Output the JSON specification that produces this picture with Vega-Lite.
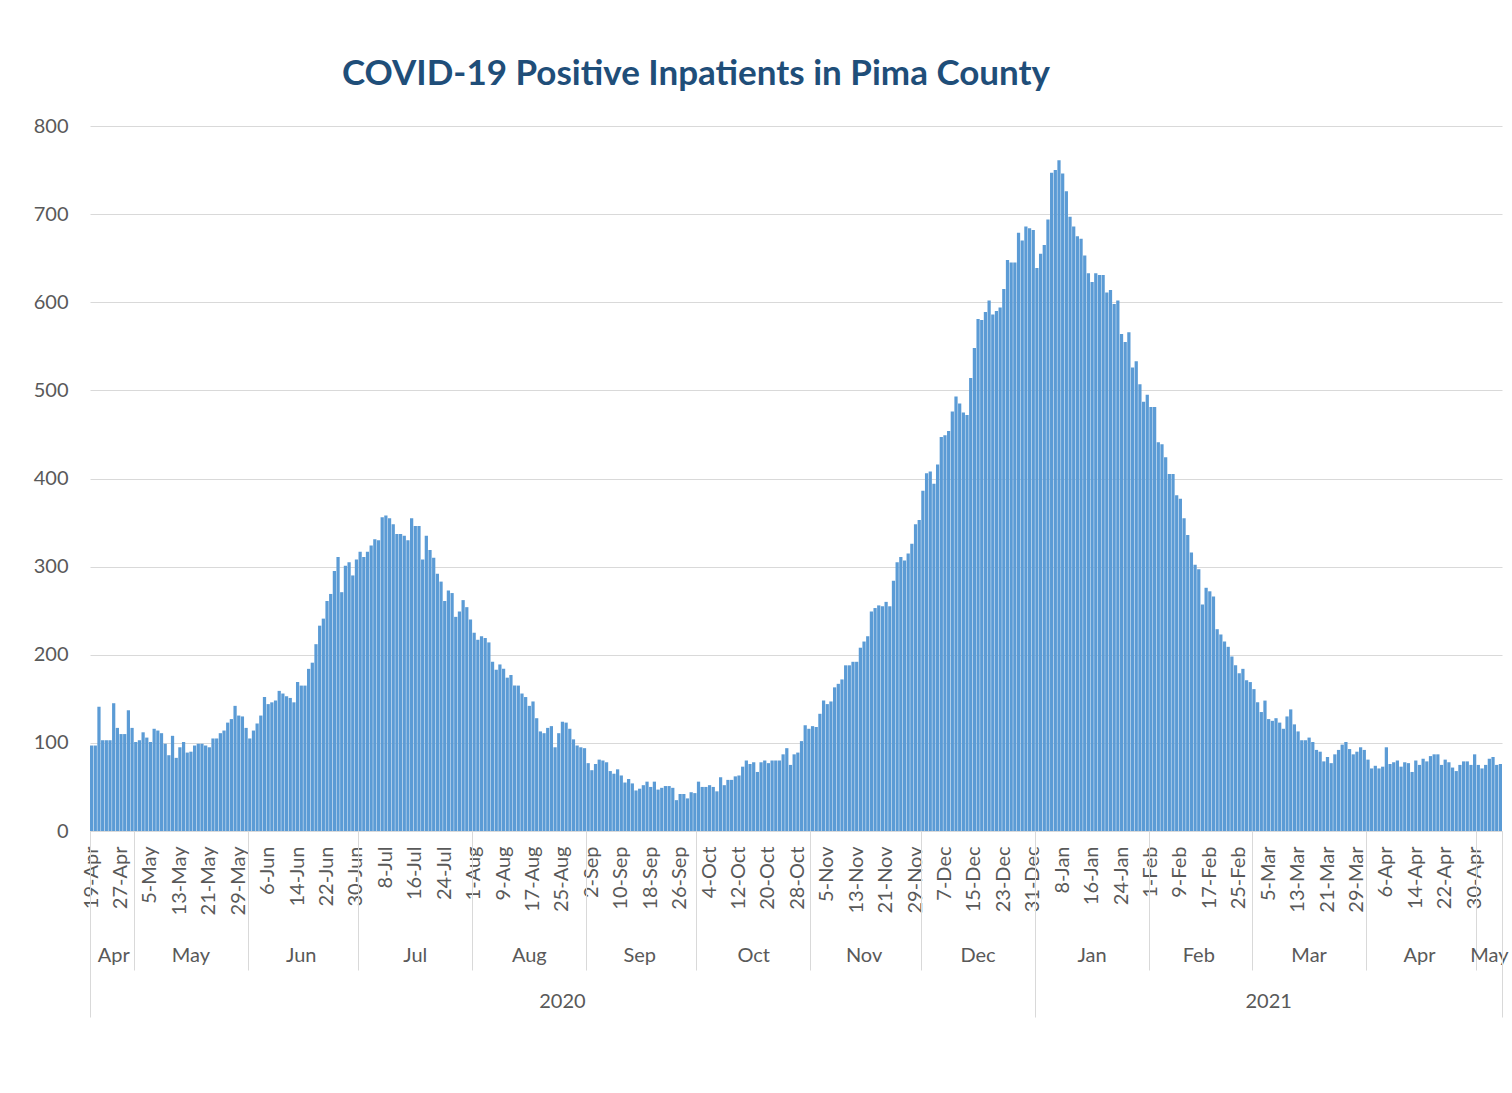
{
"$schema": "https://vega.github.io/schema/vega-lite/v6.json",
"width": 1412,
"height": 705,
"padding": {"left": 5, "top": 57, "right": 2, "bottom": 5},
"title": {"text": "COVID-19 Positive Inpatients in Pima County", "fontSize": 35, "font": "Lato", "fontWeight": "bold", "color": "#1F4E79", "anchor": "middle", "frame": "group", "dx": -100, "offset": 24},
"config": {"view": {"stroke": null}, "font": "Lato"},
"data": {"values": [
{"date":"2020-04-19","inpatients":97},{"date":"2020-04-20","inpatients":97},{"date":"2020-04-21","inpatients":141},{"date":"2020-04-22","inpatients":103},{"date":"2020-04-23","inpatients":103},{"date":"2020-04-24","inpatients":103},{"date":"2020-04-25","inpatients":145},{"date":"2020-04-26","inpatients":117},{"date":"2020-04-27","inpatients":110},{"date":"2020-04-28","inpatients":110},{"date":"2020-04-29","inpatients":137},{"date":"2020-04-30","inpatients":117},
{"date":"2020-05-01","inpatients":101},{"date":"2020-05-02","inpatients":103},{"date":"2020-05-03","inpatients":112},{"date":"2020-05-04","inpatients":106},{"date":"2020-05-05","inpatients":101},{"date":"2020-05-06","inpatients":116},{"date":"2020-05-07","inpatients":114},{"date":"2020-05-08","inpatients":111},{"date":"2020-05-09","inpatients":99},{"date":"2020-05-10","inpatients":86},{"date":"2020-05-11","inpatients":108},{"date":"2020-05-12","inpatients":83},{"date":"2020-05-13","inpatients":95},{"date":"2020-05-14","inpatients":101},{"date":"2020-05-15","inpatients":89},{"date":"2020-05-16","inpatients":90},{"date":"2020-05-17","inpatients":97},{"date":"2020-05-18","inpatients":99},{"date":"2020-05-19","inpatients":99},{"date":"2020-05-20","inpatients":97},{"date":"2020-05-21","inpatients":95},{"date":"2020-05-22","inpatients":105},{"date":"2020-05-23","inpatients":105},{"date":"2020-05-24","inpatients":111},{"date":"2020-05-25","inpatients":114},{"date":"2020-05-26","inpatients":123},{"date":"2020-05-27","inpatients":127},{"date":"2020-05-28","inpatients":142},{"date":"2020-05-29","inpatients":131},{"date":"2020-05-30","inpatients":130},{"date":"2020-05-31","inpatients":117},
{"date":"2020-06-01","inpatients":105},{"date":"2020-06-02","inpatients":114},{"date":"2020-06-03","inpatients":122},{"date":"2020-06-04","inpatients":131},{"date":"2020-06-05","inpatients":152},{"date":"2020-06-06","inpatients":144},{"date":"2020-06-07","inpatients":146},{"date":"2020-06-08","inpatients":148},{"date":"2020-06-09","inpatients":159},{"date":"2020-06-10","inpatients":156},{"date":"2020-06-11","inpatients":153},{"date":"2020-06-12","inpatients":151},{"date":"2020-06-13","inpatients":146},{"date":"2020-06-14","inpatients":169},{"date":"2020-06-15","inpatients":165},{"date":"2020-06-16","inpatients":165},{"date":"2020-06-17","inpatients":184},{"date":"2020-06-18","inpatients":191},{"date":"2020-06-19","inpatients":212},{"date":"2020-06-20","inpatients":233},{"date":"2020-06-21","inpatients":241},{"date":"2020-06-22","inpatients":261},{"date":"2020-06-23","inpatients":269},{"date":"2020-06-24","inpatients":295},{"date":"2020-06-25","inpatients":311},{"date":"2020-06-26","inpatients":271},{"date":"2020-06-27","inpatients":301},{"date":"2020-06-28","inpatients":305},{"date":"2020-06-29","inpatients":290},{"date":"2020-06-30","inpatients":308},
{"date":"2020-07-01","inpatients":317},{"date":"2020-07-02","inpatients":311},{"date":"2020-07-03","inpatients":317},{"date":"2020-07-04","inpatients":324},{"date":"2020-07-05","inpatients":331},{"date":"2020-07-06","inpatients":330},{"date":"2020-07-07","inpatients":356},{"date":"2020-07-08","inpatients":358},{"date":"2020-07-09","inpatients":355},{"date":"2020-07-10","inpatients":348},{"date":"2020-07-11","inpatients":337},{"date":"2020-07-12","inpatients":337},{"date":"2020-07-13","inpatients":335},{"date":"2020-07-14","inpatients":330},{"date":"2020-07-15","inpatients":355},{"date":"2020-07-16","inpatients":346},{"date":"2020-07-17","inpatients":346},{"date":"2020-07-18","inpatients":308},{"date":"2020-07-19","inpatients":335},{"date":"2020-07-20","inpatients":319},{"date":"2020-07-21","inpatients":310},{"date":"2020-07-22","inpatients":292},{"date":"2020-07-23","inpatients":283},{"date":"2020-07-24","inpatients":261},{"date":"2020-07-25","inpatients":273},{"date":"2020-07-26","inpatients":270},{"date":"2020-07-27","inpatients":243},{"date":"2020-07-28","inpatients":249},{"date":"2020-07-29","inpatients":262},{"date":"2020-07-30","inpatients":254},{"date":"2020-07-31","inpatients":240},
{"date":"2020-08-01","inpatients":225},{"date":"2020-08-02","inpatients":217},{"date":"2020-08-03","inpatients":221},{"date":"2020-08-04","inpatients":219},{"date":"2020-08-05","inpatients":214},{"date":"2020-08-06","inpatients":192},{"date":"2020-08-07","inpatients":183},{"date":"2020-08-08","inpatients":189},{"date":"2020-08-09","inpatients":184},{"date":"2020-08-10","inpatients":174},{"date":"2020-08-11","inpatients":177},{"date":"2020-08-12","inpatients":165},{"date":"2020-08-13","inpatients":165},{"date":"2020-08-14","inpatients":156},{"date":"2020-08-15","inpatients":152},{"date":"2020-08-16","inpatients":142},{"date":"2020-08-17","inpatients":147},{"date":"2020-08-18","inpatients":128},{"date":"2020-08-19","inpatients":113},{"date":"2020-08-20","inpatients":111},{"date":"2020-08-21","inpatients":117},{"date":"2020-08-22","inpatients":119},{"date":"2020-08-23","inpatients":95},{"date":"2020-08-24","inpatients":111},{"date":"2020-08-25","inpatients":124},{"date":"2020-08-26","inpatients":123},{"date":"2020-08-27","inpatients":116},{"date":"2020-08-28","inpatients":104},{"date":"2020-08-29","inpatients":97},{"date":"2020-08-30","inpatients":95},{"date":"2020-08-31","inpatients":94},
{"date":"2020-09-01","inpatients":77},{"date":"2020-09-02","inpatients":69},{"date":"2020-09-03","inpatients":76},{"date":"2020-09-04","inpatients":81},{"date":"2020-09-05","inpatients":80},{"date":"2020-09-06","inpatients":78},{"date":"2020-09-07","inpatients":68},{"date":"2020-09-08","inpatients":65},{"date":"2020-09-09","inpatients":70},{"date":"2020-09-10","inpatients":63},{"date":"2020-09-11","inpatients":55},{"date":"2020-09-12","inpatients":59},{"date":"2020-09-13","inpatients":54},{"date":"2020-09-14","inpatients":46},{"date":"2020-09-15","inpatients":48},{"date":"2020-09-16","inpatients":52},{"date":"2020-09-17","inpatients":56},{"date":"2020-09-18","inpatients":50},{"date":"2020-09-19","inpatients":56},{"date":"2020-09-20","inpatients":47},{"date":"2020-09-21","inpatients":49},{"date":"2020-09-22","inpatients":51},{"date":"2020-09-23","inpatients":51},{"date":"2020-09-24","inpatients":49},{"date":"2020-09-25","inpatients":35},{"date":"2020-09-26","inpatients":42},{"date":"2020-09-27","inpatients":42},{"date":"2020-09-28","inpatients":37},{"date":"2020-09-29","inpatients":44},{"date":"2020-09-30","inpatients":43},
{"date":"2020-10-01","inpatients":56},{"date":"2020-10-02","inpatients":50},{"date":"2020-10-03","inpatients":50},{"date":"2020-10-04","inpatients":52},{"date":"2020-10-05","inpatients":50},{"date":"2020-10-06","inpatients":45},{"date":"2020-10-07","inpatients":61},{"date":"2020-10-08","inpatients":52},{"date":"2020-10-09","inpatients":58},{"date":"2020-10-10","inpatients":58},{"date":"2020-10-11","inpatients":62},{"date":"2020-10-12","inpatients":63},{"date":"2020-10-13","inpatients":73},{"date":"2020-10-14","inpatients":80},{"date":"2020-10-15","inpatients":76},{"date":"2020-10-16","inpatients":78},{"date":"2020-10-17","inpatients":67},{"date":"2020-10-18","inpatients":78},{"date":"2020-10-19","inpatients":80},{"date":"2020-10-20","inpatients":77},{"date":"2020-10-21","inpatients":80},{"date":"2020-10-22","inpatients":80},{"date":"2020-10-23","inpatients":80},{"date":"2020-10-24","inpatients":87},{"date":"2020-10-25","inpatients":94},{"date":"2020-10-26","inpatients":75},{"date":"2020-10-27","inpatients":87},{"date":"2020-10-28","inpatients":89},{"date":"2020-10-29","inpatients":102},{"date":"2020-10-30","inpatients":120},{"date":"2020-10-31","inpatients":116},
{"date":"2020-11-01","inpatients":119},{"date":"2020-11-02","inpatients":118},{"date":"2020-11-03","inpatients":133},{"date":"2020-11-04","inpatients":148},{"date":"2020-11-05","inpatients":144},{"date":"2020-11-06","inpatients":147},{"date":"2020-11-07","inpatients":163},{"date":"2020-11-08","inpatients":167},{"date":"2020-11-09","inpatients":172},{"date":"2020-11-10","inpatients":188},{"date":"2020-11-11","inpatients":188},{"date":"2020-11-12","inpatients":192},{"date":"2020-11-13","inpatients":192},{"date":"2020-11-14","inpatients":208},{"date":"2020-11-15","inpatients":215},{"date":"2020-11-16","inpatients":221},{"date":"2020-11-17","inpatients":249},{"date":"2020-11-18","inpatients":253},{"date":"2020-11-19","inpatients":256},{"date":"2020-11-20","inpatients":255},{"date":"2020-11-21","inpatients":260},{"date":"2020-11-22","inpatients":255},{"date":"2020-11-23","inpatients":284},{"date":"2020-11-24","inpatients":305},{"date":"2020-11-25","inpatients":311},{"date":"2020-11-26","inpatients":307},{"date":"2020-11-27","inpatients":315},{"date":"2020-11-28","inpatients":326},{"date":"2020-11-29","inpatients":348},{"date":"2020-11-30","inpatients":353},
{"date":"2020-12-01","inpatients":386},{"date":"2020-12-02","inpatients":406},{"date":"2020-12-03","inpatients":408},{"date":"2020-12-04","inpatients":394},{"date":"2020-12-05","inpatients":416},{"date":"2020-12-06","inpatients":447},{"date":"2020-12-07","inpatients":449},{"date":"2020-12-08","inpatients":454},{"date":"2020-12-09","inpatients":476},{"date":"2020-12-10","inpatients":493},{"date":"2020-12-11","inpatients":485},{"date":"2020-12-12","inpatients":475},{"date":"2020-12-13","inpatients":472},{"date":"2020-12-14","inpatients":514},{"date":"2020-12-15","inpatients":548},{"date":"2020-12-16","inpatients":581},{"date":"2020-12-17","inpatients":580},{"date":"2020-12-18","inpatients":589},{"date":"2020-12-19","inpatients":602},{"date":"2020-12-20","inpatients":586},{"date":"2020-12-21","inpatients":590},{"date":"2020-12-22","inpatients":594},{"date":"2020-12-23","inpatients":615},{"date":"2020-12-24","inpatients":648},{"date":"2020-12-25","inpatients":645},{"date":"2020-12-26","inpatients":645},{"date":"2020-12-27","inpatients":679},{"date":"2020-12-28","inpatients":670},{"date":"2020-12-29","inpatients":686},{"date":"2020-12-30","inpatients":684},{"date":"2020-12-31","inpatients":682},
{"date":"2021-01-01","inpatients":639},{"date":"2021-01-02","inpatients":655},{"date":"2021-01-03","inpatients":665},{"date":"2021-01-04","inpatients":694},{"date":"2021-01-05","inpatients":747},{"date":"2021-01-06","inpatients":750},{"date":"2021-01-07","inpatients":761},{"date":"2021-01-08","inpatients":746},{"date":"2021-01-09","inpatients":726},{"date":"2021-01-10","inpatients":697},{"date":"2021-01-11","inpatients":686},{"date":"2021-01-12","inpatients":675},{"date":"2021-01-13","inpatients":672},{"date":"2021-01-14","inpatients":653},{"date":"2021-01-15","inpatients":633},{"date":"2021-01-16","inpatients":623},{"date":"2021-01-17","inpatients":633},{"date":"2021-01-18","inpatients":631},{"date":"2021-01-19","inpatients":631},{"date":"2021-01-20","inpatients":611},{"date":"2021-01-21","inpatients":614},{"date":"2021-01-22","inpatients":598},{"date":"2021-01-23","inpatients":602},{"date":"2021-01-24","inpatients":564},{"date":"2021-01-25","inpatients":555},{"date":"2021-01-26","inpatients":566},{"date":"2021-01-27","inpatients":526},{"date":"2021-01-28","inpatients":533},{"date":"2021-01-29","inpatients":507},{"date":"2021-01-30","inpatients":487},{"date":"2021-01-31","inpatients":495},
{"date":"2021-02-01","inpatients":481},{"date":"2021-02-02","inpatients":481},{"date":"2021-02-03","inpatients":441},{"date":"2021-02-04","inpatients":439},{"date":"2021-02-05","inpatients":424},{"date":"2021-02-06","inpatients":405},{"date":"2021-02-07","inpatients":405},{"date":"2021-02-08","inpatients":381},{"date":"2021-02-09","inpatients":377},{"date":"2021-02-10","inpatients":355},{"date":"2021-02-11","inpatients":336},{"date":"2021-02-12","inpatients":316},{"date":"2021-02-13","inpatients":302},{"date":"2021-02-14","inpatients":297},{"date":"2021-02-15","inpatients":257},{"date":"2021-02-16","inpatients":276},{"date":"2021-02-17","inpatients":272},{"date":"2021-02-18","inpatients":266},{"date":"2021-02-19","inpatients":229},{"date":"2021-02-20","inpatients":223},{"date":"2021-02-21","inpatients":215},{"date":"2021-02-22","inpatients":209},{"date":"2021-02-23","inpatients":198},{"date":"2021-02-24","inpatients":188},{"date":"2021-02-25","inpatients":179},{"date":"2021-02-26","inpatients":184},{"date":"2021-02-27","inpatients":171},{"date":"2021-02-28","inpatients":169},
{"date":"2021-03-01","inpatients":161},{"date":"2021-03-02","inpatients":146},{"date":"2021-03-03","inpatients":135},{"date":"2021-03-04","inpatients":148},{"date":"2021-03-05","inpatients":127},{"date":"2021-03-06","inpatients":125},{"date":"2021-03-07","inpatients":128},{"date":"2021-03-08","inpatients":123},{"date":"2021-03-09","inpatients":116},{"date":"2021-03-10","inpatients":130},{"date":"2021-03-11","inpatients":138},{"date":"2021-03-12","inpatients":121},{"date":"2021-03-13","inpatients":113},{"date":"2021-03-14","inpatients":103},{"date":"2021-03-15","inpatients":103},{"date":"2021-03-16","inpatients":106},{"date":"2021-03-17","inpatients":101},{"date":"2021-03-18","inpatients":92},{"date":"2021-03-19","inpatients":90},{"date":"2021-03-20","inpatients":79},{"date":"2021-03-21","inpatients":84},{"date":"2021-03-22","inpatients":77},{"date":"2021-03-23","inpatients":87},{"date":"2021-03-24","inpatients":92},{"date":"2021-03-25","inpatients":98},{"date":"2021-03-26","inpatients":101},{"date":"2021-03-27","inpatients":93},{"date":"2021-03-28","inpatients":87},{"date":"2021-03-29","inpatients":90},{"date":"2021-03-30","inpatients":95},{"date":"2021-03-31","inpatients":92},
{"date":"2021-04-01","inpatients":81},{"date":"2021-04-02","inpatients":71},{"date":"2021-04-03","inpatients":74},{"date":"2021-04-04","inpatients":71},{"date":"2021-04-05","inpatients":73},{"date":"2021-04-06","inpatients":95},{"date":"2021-04-07","inpatients":76},{"date":"2021-04-08","inpatients":78},{"date":"2021-04-09","inpatients":80},{"date":"2021-04-10","inpatients":73},{"date":"2021-04-11","inpatients":78},{"date":"2021-04-12","inpatients":77},{"date":"2021-04-13","inpatients":67},{"date":"2021-04-14","inpatients":80},{"date":"2021-04-15","inpatients":75},{"date":"2021-04-16","inpatients":82},{"date":"2021-04-17","inpatients":79},{"date":"2021-04-18","inpatients":85},{"date":"2021-04-19","inpatients":87},{"date":"2021-04-20","inpatients":87},{"date":"2021-04-21","inpatients":75},{"date":"2021-04-22","inpatients":81},{"date":"2021-04-23","inpatients":78},{"date":"2021-04-24","inpatients":72},{"date":"2021-04-25","inpatients":68},{"date":"2021-04-26","inpatients":75},{"date":"2021-04-27","inpatients":79},{"date":"2021-04-28","inpatients":79},{"date":"2021-04-29","inpatients":75},{"date":"2021-04-30","inpatients":87},
{"date":"2021-05-01","inpatients":75},{"date":"2021-05-02","inpatients":71},{"date":"2021-05-03","inpatients":75},{"date":"2021-05-04","inpatients":82},{"date":"2021-05-05","inpatients":84},{"date":"2021-05-06","inpatients":75},{"date":"2021-05-07","inpatients":76}
]},
"layer": [
{"mark": {"type": "bar", "color": "#5B9BD5"},
 "encoding": {
  "x": {"field": "date", "type": "ordinal", "scale": {"paddingInner": 0.12, "paddingOuter": 0},
   "axis": {"orient": "bottom", "title": null, "values": ["2020-04-19","2020-04-27","2020-05-05","2020-05-13","2020-05-21","2020-05-29","2020-06-06","2020-06-14","2020-06-22","2020-06-30","2020-07-08","2020-07-16","2020-07-24","2020-08-01","2020-08-09","2020-08-17","2020-08-25","2020-09-02","2020-09-10","2020-09-18","2020-09-26","2020-10-04","2020-10-12","2020-10-20","2020-10-28","2020-11-05","2020-11-13","2020-11-21","2020-11-29","2020-12-07","2020-12-15","2020-12-23","2020-12-31","2021-01-08","2021-01-16","2021-01-24","2021-02-01","2021-02-09","2021-02-17","2021-02-25","2021-03-05","2021-03-13","2021-03-21","2021-03-29","2021-04-06","2021-04-14","2021-04-22","2021-04-30"],
    "labelExpr": "utcFormat(toDate(datum.value), '%-d-%b')", "labelAngle": -90, "labelFontSize": 20, "labelFont": "Lato", "labelColor": "#595959", "ticks": false, "tickSize": 0, "labelPadding": 15, "domainColor": "#D9D9D9", "domainWidth": 1, "labelOverlap": false, "labelBound": false, "labelFlush": false, "grid": false}},
  "y": {"field": "inpatients", "type": "quantitative", "scale": {"domain": [0, 800]},
   "axis": {"title": null, "values": [0,100,200,300,400,500,600,700,800], "grid": true, "gridColor": "#D9D9D9", "gridWidth": 1, "domain": false, "ticks": false, "labelFontSize": 20, "labelFont": "Lato", "labelColor": "#595959", "labelPadding": 22, "minExtent": 85, "maxExtent": 85}}
 }},
{"mark": {"type": "bar", "opacity": 0},
 "encoding": {"x": {"field": "date", "type": "ordinal",
  "axis": {"orient": "bottom", "title": null, "values": ["2020-04-19","2020-05-01","2020-06-01","2020-07-01","2020-08-01","2020-09-01","2020-10-01","2020-11-01","2020-12-01","2021-01-01","2021-02-01","2021-03-01","2021-04-01","2021-05-01"], "bandPosition": 0, "labels": false, "domain": false, "ticks": true, "tickSize": 139, "tickColor": "#D9D9D9", "tickWidth": 1, "grid": false}}}},
{"mark": {"type": "bar", "opacity": 0},
 "encoding": {"x": {"field": "date", "type": "ordinal",
  "axis": {"orient": "bottom", "title": null, "values": ["2020-04-25","2020-05-16","2020-06-15","2020-07-16","2020-08-16","2020-09-15","2020-10-16","2020-11-15","2020-12-16","2021-01-16","2021-02-14","2021-03-16","2021-04-15","2021-05-04"], "labelExpr": "utcFormat(toDate(datum.value), '%b')", "labelAngle": 0, "ticks": false, "tickSize": 0, "domain": false, "offset": 114, "labelPadding": 0, "labelFontSize": 20, "labelFont": "Lato", "labelColor": "#595959", "labelOverlap": false, "labelBound": false, "labelFlush": false, "grid": false}}}},
{"mark": {"type": "bar", "opacity": 0},
 "encoding": {"x": {"field": "date", "type": "ordinal",
  "axis": {"orient": "bottom", "title": null, "values": ["2020-04-19","2021-01-01"], "bandPosition": 0, "labels": false, "domain": false, "ticks": true, "tickSize": 186, "tickColor": "#D9D9D9", "tickWidth": 1, "grid": false}}}},
{"mark": {"type": "bar", "opacity": 0},
 "encoding": {"x": {"field": "date", "type": "ordinal",
  "axis": {"orient": "bottom", "title": null, "values": ["2021-05-07"], "bandPosition": 1, "labels": false, "domain": false, "ticks": true, "tickSize": 186, "tickColor": "#D9D9D9", "tickWidth": 1, "grid": false}}}},
{"mark": {"type": "bar", "opacity": 0},
 "encoding": {"x": {"field": "date", "type": "ordinal",
  "axis": {"orient": "bottom", "title": null, "values": ["2020-08-25","2021-03-05"], "labelExpr": "utcFormat(toDate(datum.value), '%Y')", "labelAngle": 0, "ticks": false, "tickSize": 0, "domain": false, "offset": 160, "labelPadding": 0, "labelFontSize": 20, "labelFont": "Lato", "labelColor": "#595959", "labelOverlap": false, "grid": false}}}}
],
"resolve": {"axis": {"x": "independent"}}
}
